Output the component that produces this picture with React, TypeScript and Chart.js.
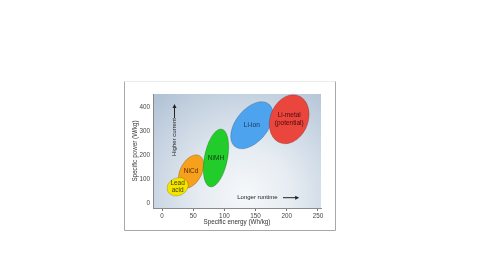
import { useEffect, useRef } from "react";
import { Chart, registerables } from "chart.js";
Chart.register(...registerables);

const batteries = ["Lead\nacid", "NiCd", "NiMH", "Li-ion", "Li-metal\n(potential)"];
const energyMin = [8, 26, 66, 110, 172];
const energyMax = [42, 67, 107, 178, 236];
const powerMin = [29, 61, 67, 226, 247];
const powerMax = [106, 201, 309, 423, 452];
const tilt = [0.15, 0.4, 0.38, 0.47, 0.2];
const fillColors = ["#f2e600", "#f6a01c", "#22cc2a", "#4ea3ee", "#ea463d"];
const textColors = ["#4a3a00", "#5a2a00", "#103a10", "#12305a", "#4a0a0a"];
const drawOrder = [1, 0, 2, 3, 4];
const xTicks = [0, 50, 100, 150, 200, 250];
const yTicks = [0, 100, 200, 300, 400];

const upLabel = "Higher current";
const upLabelAt = [20, 275];
const upArrowFrom = [20, 355];
const upArrowTo = [20, 413];
const rightLabel = "Longer runtime";
const rightLabelAt = [153, 22];
const rightArrowFrom = [194, 22];
const rightArrowTo = [220, 22];

const FONT = "'Liberation Sans', Arial, sans-serif";

const decor = {
  id: "decor",
  beforeDraw(chart: any) {
    const ctx = chart.ctx;
    const a = chart.chartArea;
    ctx.save();
    ctx.strokeStyle = "#ececec";
    ctx.lineWidth = 1;
    ctx.beginPath();
    ctx.moveTo(124.5, 81.5);
    ctx.lineTo(335.5, 81.5);
    ctx.stroke();
    ctx.strokeStyle = "#a8a8a8";
    ctx.beginPath();
    ctx.moveTo(124.5, 81.5);
    ctx.lineTo(124.5, 230.5);
    ctx.lineTo(335.5, 230.5);
    ctx.lineTo(335.5, 81.5);
    ctx.stroke();
    const w = a.right - a.left;
    const h = a.bottom - a.top;
    const gx = a.left + 0.55 * w;
    const gy = a.bottom - 0.12 * h;
    const g = ctx.createRadialGradient(gx, gy, 0, gx, gy, 0.78 * w);
    g.addColorStop(0, "#f6f8fa");
    g.addColorStop(0.35, "#e6ecf2");
    g.addColorStop(1, "#b2c3d6");
    ctx.fillStyle = g;
    ctx.fillRect(a.left, a.top, w, h);
    ctx.restore();
  },
  afterDatasetsDraw(chart: any) {
    const ctx = chart.ctx;
    const xs = chart.scales.x;
    const ys = chart.scales.y;
    const a = chart.chartArea;
    ctx.save();
    ctx.beginPath();
    ctx.rect(a.left, a.top, a.right - a.left, a.bottom - a.top);
    ctx.clip();
    for (const i of drawOrder) {
      const x0 = xs.getPixelForValue(energyMin[i]);
      const x1 = xs.getPixelForValue(energyMax[i]);
      const y0 = ys.getPixelForValue(powerMin[i]);
      const y1 = ys.getPixelForValue(powerMax[i]);
      const cx = (x0 + x1) / 2;
      const cy = (y0 + y1) / 2;
      const W = (x1 - x0) / 2;
      const H = (y0 - y1) / 2;
      const r = tilt[i];
      ctx.save();
      ctx.translate(cx, cy);
      ctx.transform(W, -r * H, 0, -Math.sqrt(1 - r * r) * H, 0, 0);
      ctx.beginPath();
      ctx.arc(0, 0, 1, 0, Math.PI * 2);
      ctx.restore();
      ctx.fillStyle = fillColors[i];
      ctx.fill();
      ctx.strokeStyle = "rgba(0,0,0,0.22)";
      ctx.lineWidth = 0.8;
      ctx.stroke();
      ctx.fillStyle = textColors[i];
      ctx.font = `6.5px ${FONT}`;
      ctx.textAlign = "center";
      ctx.textBaseline = "middle";
      const lines = batteries[i].split("\n");
      lines.forEach((ln, k) => {
        ctx.fillText(ln, cx, cy + (k - (lines.length - 1) / 2) * 7.5);
      });
    }
    ctx.restore();

    ctx.save();
    ctx.fillStyle = "#222";
    ctx.strokeStyle = "#222";
    ctx.font = `6px ${FONT}`;
    ctx.textAlign = "center";
    ctx.textBaseline = "middle";
    const ux = xs.getPixelForValue(upLabelAt[0]);
    const uy = ys.getPixelForValue(upLabelAt[1]);
    ctx.save();
    ctx.translate(ux, uy);
    ctx.rotate(-Math.PI / 2);
    ctx.fillText(upLabel, 0, 0);
    ctx.restore();
    const rx = xs.getPixelForValue(rightLabelAt[0]);
    const ry = ys.getPixelForValue(rightLabelAt[1]);
    ctx.fillText(rightLabel, rx, ry);
    const arrow = (f: number[], t: number[]) => {
      const fx = xs.getPixelForValue(f[0]);
      const fy = ys.getPixelForValue(f[1]);
      const tx = xs.getPixelForValue(t[0]);
      const ty = ys.getPixelForValue(t[1]);
      const ang = Math.atan2(ty - fy, tx - fx);
      ctx.lineWidth = 1;
      ctx.beginPath();
      ctx.moveTo(fx, fy);
      ctx.lineTo(tx - 3 * Math.cos(ang), ty - 3 * Math.sin(ang));
      ctx.stroke();
      ctx.beginPath();
      ctx.moveTo(tx, ty);
      ctx.lineTo(tx - 4 * Math.cos(ang) + 2 * Math.sin(ang), ty - 4 * Math.sin(ang) - 2 * Math.cos(ang));
      ctx.lineTo(tx - 4 * Math.cos(ang) - 2 * Math.sin(ang), ty - 4 * Math.sin(ang) + 2 * Math.cos(ang));
      ctx.closePath();
      ctx.fill();
    };
    arrow(upArrowFrom, upArrowTo);
    arrow(rightArrowFrom, rightArrowTo);
    ctx.restore();
  },
};

export default function App() {
  const ref = useRef<HTMLCanvasElement>(null);
  useEffect(() => {
    if (!ref.current) return;
    const chart = new Chart(ref.current, {
      type: "scatter",
      data: {
        datasets: [
          {
            label: "Batteries",
            data: batteries.map((_, i) => ({
              x: (energyMin[i] + energyMax[i]) / 2,
              y: (powerMin[i] + powerMax[i]) / 2,
            })),
            pointRadius: 0,
            pointHoverRadius: 0,
          },
        ],
      },
      options: {
        responsive: false,
        animation: false,
        events: [],
        layout: { padding: { left: 125, right: 159, top: 94, bottom: 39 } },
        plugins: { legend: { display: false }, tooltip: { enabled: false } },
        scales: {
          x: {
            type: "linear",
            min: -14.5,
            max: 255,
            afterBuildTicks: (s: any) => {
              s.ticks = xTicks.map((v) => ({ value: v }));
            },
            afterFit: (s: any) => {
              s.height = 23;
            },
            grid: { display: true, drawOnChartArea: false, drawTicks: true, tickLength: 3, color: "#777" },
            border: { display: true, color: "#8a8a8a", width: 1 },
            ticks: { font: { family: FONT, size: 6.3 }, color: "#444", padding: 1, maxRotation: 0 },
            title: {
              display: true,
              text: "Specific energy (Wh/kg)",
              font: { family: FONT, size: 6.3 },
              color: "#333",
              padding: { top: 0, bottom: 5 },
            },
          },
          y: {
            type: "linear",
            min: -21,
            max: 455,
            afterBuildTicks: (s: any) => {
              s.ticks = yTicks.map((v) => ({ value: v }));
            },
            afterFit: (s: any) => {
              s.width = 28;
            },
            grid: { display: false, drawTicks: false },
            border: { display: true, color: "#8a8a8a", width: 1 },
            ticks: { font: { family: FONT, size: 6.3 }, color: "#444", padding: 3 },
            title: {
              display: true,
              text: "Specific power (W/kg)",
              font: { family: FONT, size: 6.3 },
              color: "#333",
              padding: { top: 6, bottom: 0 },
            },
          },
        },
      },
      plugins: [decor],
    });
    return () => chart.destroy();
  }, []);
  return (
    <div style={{ position: "absolute", left: 0, top: 0, width: 480, height: 270, background: "#fff" }}>
      <canvas ref={ref} width={480} height={270} style={{ display: "block" }} />
    </div>
  );
}
